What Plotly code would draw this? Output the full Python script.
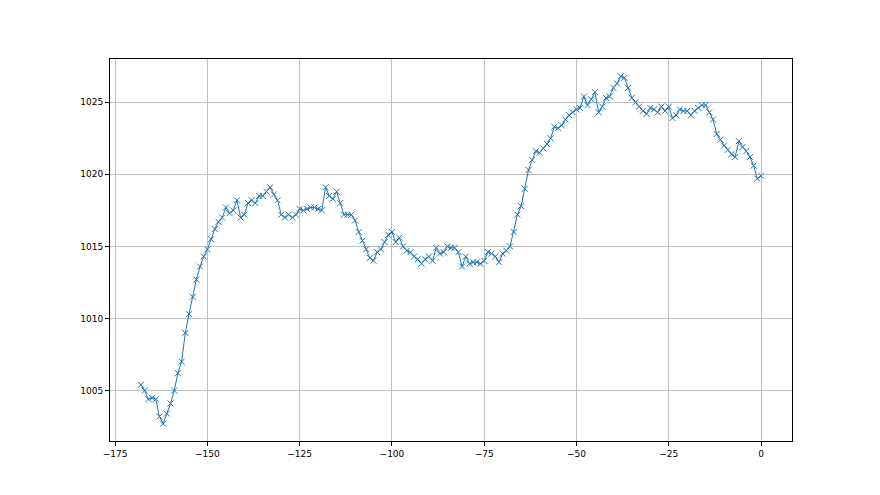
import plotly.graph_objects as go

hours = list(range(-168, 1))
pressure = [
    1005.4, 1005.0, 1004.4, 1004.5, 1004.4, 1003.2, 1002.7, 1003.4, 1004.1, 1005.0,
    1006.2, 1007.0, 1009.0, 1010.3, 1011.5, 1012.7, 1013.6, 1014.3, 1014.8, 1015.5,
    1016.2, 1016.7, 1017.0, 1017.7, 1017.3, 1017.5, 1018.2, 1017.0, 1017.2, 1018.0,
    1018.2, 1018.0, 1018.5, 1018.5, 1018.8, 1019.1, 1018.6, 1018.2, 1017.2, 1017.0,
    1017.2, 1017.0, 1017.2, 1017.6, 1017.5, 1017.6, 1017.7, 1017.7, 1017.6, 1017.5,
    1019.1, 1018.5, 1018.3, 1018.8, 1018.0, 1017.2, 1017.2, 1017.2, 1016.8, 1016.0,
    1015.4, 1014.8, 1014.2, 1014.0, 1014.6, 1014.8, 1015.3, 1015.8, 1016.0, 1015.3,
    1015.6, 1015.0, 1014.7, 1014.6, 1014.3, 1014.1, 1013.8, 1014.1, 1014.3, 1014.0,
    1014.9, 1014.5, 1014.6, 1015.0, 1014.9, 1014.9, 1014.6, 1013.6, 1014.3, 1013.8,
    1013.9, 1013.9, 1013.8, 1014.0, 1014.6, 1014.5, 1014.3, 1013.9, 1014.5, 1014.7,
    1015.0, 1016.0, 1017.2, 1017.8, 1019.0, 1020.3, 1021.0, 1021.6, 1021.5, 1021.8,
    1022.1, 1022.5, 1023.3, 1023.2, 1023.4, 1023.8, 1024.1, 1024.3, 1024.5, 1024.6,
    1025.4, 1024.8, 1025.2, 1025.7, 1024.3, 1024.7, 1025.3, 1025.4, 1026.0, 1026.3,
    1026.8, 1026.7, 1026.0, 1025.3, 1025.0, 1024.7, 1024.4, 1024.2, 1024.6, 1024.5,
    1024.3, 1024.7, 1024.4, 1024.7, 1023.9, 1024.1, 1024.5, 1024.4, 1024.4, 1024.1,
    1024.4, 1024.6, 1024.8, 1024.8, 1024.3, 1023.8, 1022.8, 1022.4, 1022.0, 1021.7,
    1021.4, 1021.2, 1022.3, 1021.9, 1021.6, 1021.2, 1020.6, 1019.7, 1019.9,
]

x_ticks = [-175, -150, -125, -100, -75, -50, -25, 0]
y_ticks = [1005, 1010, 1015, 1020, 1025]

fig = go.Figure()
fig.add_trace(go.Scatter(
    x=hours, y=pressure, mode="lines+markers",
    line=dict(color="#1f77b4", width=1),
    marker=dict(symbol="x-thin", size=6, line=dict(color="#1f77b4", width=1)),
    showlegend=False,
))

axis_common = dict(
    showline=True, linecolor="black", linewidth=1, mirror=True,
    ticks="outside", ticklen=4, tickcolor="black", tickwidth=1,
    showgrid=True, gridcolor="#c0c0c0", gridwidth=0.8,
    zeroline=False, tickfont=dict(family="DejaVu Sans", size=9, color="black"),
)
fig.update_xaxes(range=[-176.4, 8.4], tickvals=x_ticks,
                 ticktext=["\u2212" + str(-v) if v < 0 else str(v) for v in x_ticks],
                 **axis_common)
fig.update_yaxes(range=[1001.5, 1028.0], tickvals=y_ticks,
                 ticktext=[str(v) for v in y_ticks], **axis_common)

fig.update_layout(
    width=880, height=495,
    margin=dict(l=102, r=96, t=51, b=62),
    paper_bgcolor="white", plot_bgcolor="white",
)
fig.write_html("out.html")
